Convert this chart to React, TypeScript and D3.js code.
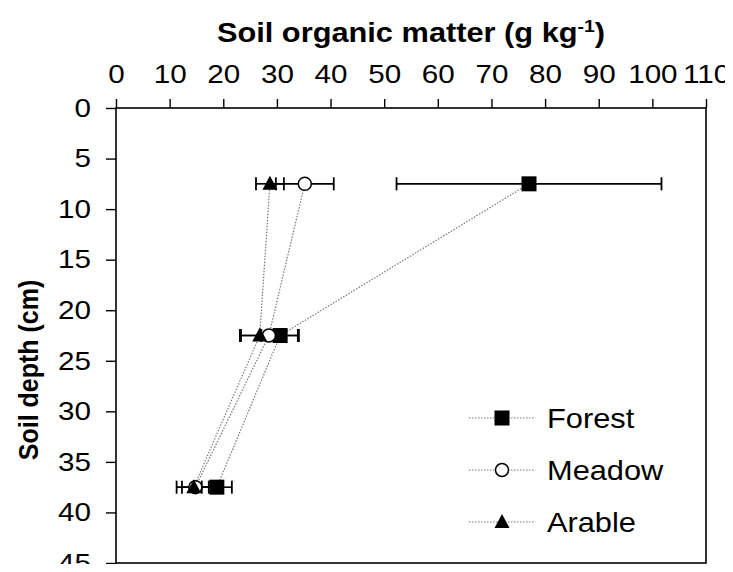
import React, { useEffect, useRef } from 'react';
import * as d3 from 'd3';

// soil depth (cm) of each sampling layer
const depths = [7.5, 22.5, 37.5];

// soil organic matter (g/kg) and error bars, per land use
const forestSom = [77, 30.6, 18.8];
const forestErr = [24.7, 3.5, 2.8];
const meadowSom = [35.2, 28.5, 14.8];
const meadowErr = [5.4, 5.4, 2.5];
const arableSom = [28.7, 26.8, 14.5];
const arableErr = [2.6, 3.5, 3.2];

const seriesNames = ['Forest', 'Meadow', 'Arable'];
const xTicks = [0, 10, 20, 30, 40, 50, 60, 70, 80, 90, 100, 110];
const yTicks = [0, 5, 10, 15, 20, 25, 30, 35, 40, 45];

const App: React.FC = () => {
  const ref = useRef<SVGSVGElement | null>(null);

  useEffect(() => {
    if (!ref.current) return;
    const svg = d3.select(ref.current);
    svg.selectAll('*').remove();

    const width = 733;
    const height = 572;
    const margin = { top: 108, right: 27, bottom: 9, left: 116 };
    const innerW = width - margin.left - margin.right;
    const innerH = height - margin.top - margin.bottom;
    const font = 'Liberation Sans, Arial, sans-serif';
    const stretch = 1.14; // the original text is a bit wide

    svg.append('rect').attr('width', width).attr('height', height).attr('fill', '#fff');

    const g = svg.append('g').attr('transform', `translate(${margin.left},${margin.top})`);

    const x = d3.scaleLinear().domain([0, 110]).range([0, innerW]);
    const y = d3.scaleLinear().domain([0, 45]).range([0, innerH]);

    const series = [
      { name: seriesNames[0], som: forestSom, err: forestErr, marker: 'square' },
      { name: seriesNames[1], som: meadowSom, err: meadowErr, marker: 'circle' },
      { name: seriesNames[2], som: arableSom, err: arableErr, marker: 'triangle' },
    ];

    // plot frame
    g.append('rect')
      .attr('width', innerW)
      .attr('height', innerH)
      .attr('fill', 'none')
      .attr('stroke', '#000')
      .attr('stroke-width', 1.6);

    // axes
    const xAxis = d3.axisTop(x).tickValues(xTicks).tickSizeInner(9).tickSizeOuter(0).tickPadding(16);
    const xg = g.append('g').call(xAxis);
    xg.select('.domain').remove();
    xg.selectAll('line').attr('stroke', '#000').attr('stroke-width', 1.4);
    xg.selectAll('text')
      .attr('font-family', font)
      .attr('font-size', 26)
      .attr('fill', '#000')
      .attr('transform', `scale(${stretch},1)`);

    const yAxis = d3.axisLeft(y).tickValues(yTicks).tickSizeInner(10).tickSizeOuter(0);
    const yg = g.append('g').call(yAxis);
    yg.select('.domain').remove();
    yg.selectAll('line').attr('stroke', '#000').attr('stroke-width', 1.4);
    yg.selectAll('text')
      .attr('x', -25 / stretch)
      .attr('font-family', font)
      .attr('font-size', 26)
      .attr('fill', '#000')
      .attr('transform', `scale(${stretch},1)`);

    // axis titles
    const title = svg
      .append('text')
      .attr('transform', `translate(${margin.left + innerW / 2},42) scale(${stretch},1)`)
      .attr('text-anchor', 'middle')
      .attr('font-family', font)
      .attr('font-weight', 'bold')
      .attr('font-size', 27)
      .attr('fill', '#000');
    title.append('tspan').text('Soil organic matter (g kg');
    title.append('tspan').attr('font-size', 17).attr('dy', -10).text('-1');
    title.append('tspan').attr('dy', 10).text(')');

    svg
      .append('text')
      .attr('transform', `translate(38,370) scale(${stretch},1) rotate(-90)`)
      .attr('text-anchor', 'middle')
      .attr('font-family', font)
      .attr('font-weight', 'bold')
      .attr('font-size', 25)
      .attr('fill', '#000')
      .text('Soil depth (cm)');

    const drawMarker = (sel: any, type: string, cx: number, cy: number) => {
      if (type === 'square') {
        sel.append('rect')
          .attr('x', cx - 7.5)
          .attr('y', cy - 7.5)
          .attr('width', 15)
          .attr('height', 15)
          .attr('fill', '#000');
      } else if (type === 'circle') {
        sel.append('circle')
          .attr('cx', cx)
          .attr('cy', cy)
          .attr('r', 6.5)
          .attr('fill', '#fff')
          .attr('stroke', '#000')
          .attr('stroke-width', 1.5);
      } else {
        sel.append('path')
          .attr('d', `M${cx},${cy - 8}L${cx + 7.5},${cy + 6}L${cx - 7.5},${cy + 6}Z`)
          .attr('fill', '#000');
      }
    };

    // dotted connecting lines
    const line = d3
      .line<number>()
      .x((d) => x(d))
      .y((_, i) => y(depths[i]));
    series.forEach((s) => {
      g.append('path')
        .attr('d', line(s.som))
        .attr('fill', 'none')
        .attr('stroke', '#777')
        .attr('stroke-width', 1.2)
        .attr('stroke-dasharray', '1.5,1.5');
    });

    // error bars
    series.forEach((s) => {
      s.som.forEach((v, i) => {
        const cy = y(depths[i]);
        const x0 = x(v - s.err[i]);
        const x1 = x(v + s.err[i]);
        g.append('line').attr('x1', x0).attr('x2', x1).attr('y1', cy).attr('y2', cy)
          .attr('stroke', '#000').attr('stroke-width', 1.6);
        [x0, x1].forEach((cx) => {
          g.append('line').attr('x1', cx).attr('x2', cx).attr('y1', cy - 6.5).attr('y2', cy + 6.5)
            .attr('stroke', '#000').attr('stroke-width', 1.8);
        });
      });
    });

    // markers
    series.forEach((s) => {
      s.som.forEach((v, i) => drawMarker(g, s.marker, x(v), y(depths[i])));
    });

    // legend
    const legend = svg.append('g').attr('transform', 'translate(469,418)');
    series.forEach((s, i) => {
      const row = legend.append('g').attr('transform', `translate(0,${i * 52})`);
      row.append('line')
        .attr('x1', 0).attr('x2', 66).attr('y1', 0).attr('y2', 0)
        .attr('stroke', '#777').attr('stroke-width', 1.2).attr('stroke-dasharray', '1.5,1.5');
      drawMarker(row, s.marker, 33, 0);
      row.append('text')
        .attr('transform', `translate(78,10) scale(${stretch},1)`)
        .attr('font-family', font)
        .attr('font-size', 27)
        .attr('fill', '#000')
        .text(s.name);
    });
  }, []);

  return <svg ref={ref} width={733} height={572} style={{ display: 'block', margin: -8 }}></svg>;
};

export default App;
